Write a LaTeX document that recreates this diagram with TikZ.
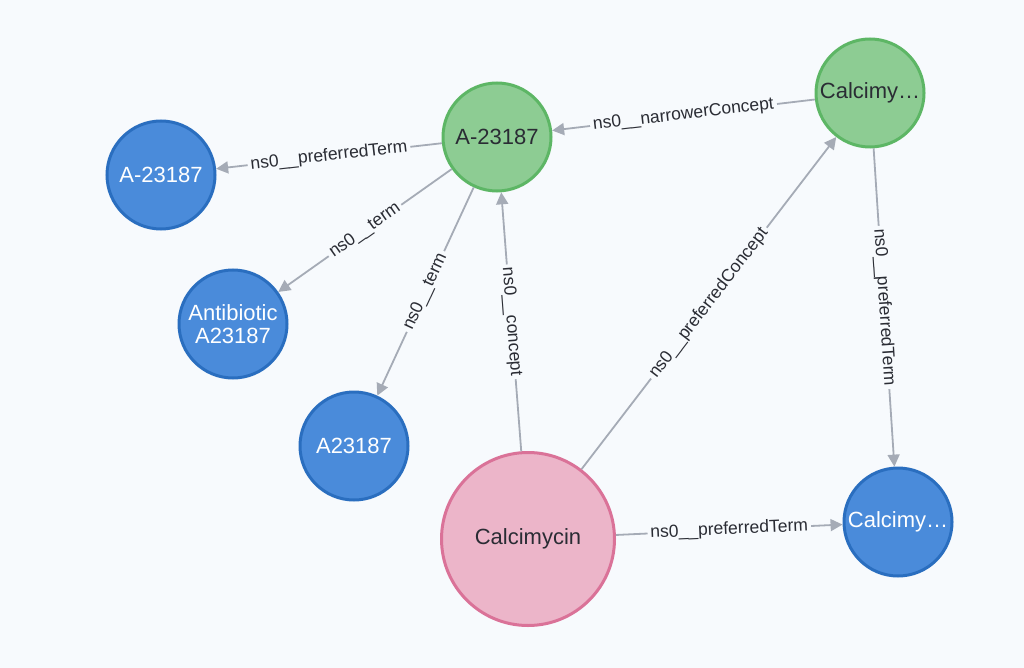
\documentclass[tikz,border=0pt]{standalone}
\usepackage{fontspec}
\setmainfont{Liberation Sans}
\usetikzlibrary{arrows.meta}

\definecolor{bg}{HTML}{F7FAFD}
\definecolor{bluefill}{HTML}{4A8BDA}
\definecolor{blueline}{HTML}{2A6EBF}
\definecolor{greenfill}{HTML}{8DCC93}
\definecolor{greenline}{HTML}{5DB665}
\definecolor{pinkfill}{HTML}{ECB5C9}
\definecolor{pinkline}{HTML}{DA7298}
\definecolor{edgecol}{HTML}{A5ABB6}
\definecolor{textdark}{HTML}{2A2C34}

\begin{document}
\begin{tikzpicture}[x=1pt,y=-1pt,
  term/.style={circle,draw=blueline,fill=bluefill,line width=3pt,minimum size=108pt,inner sep=0pt,text=white,font=\fontsize{22}{22.5}\selectfont,align=center},
  concept/.style={term,draw=greenline,fill=greenfill,text=textdark},
  drug/.style={term,draw=pinkline,fill=pinkfill,text=textdark,minimum size=173pt},
  rel/.style={draw=edgecol,line width=1.8pt,-{Triangle[length=12pt,width=12pt]}},
  lbl/.style={midway,sloped,fill=bg,inner sep=3pt,text=textdark,font=\fontsize{17.5}{19}\selectfont}]
\fill[bg] (0,0) rectangle (1024,668);
% nodes
\node[concept] (aconc) at (497,137) {A-23187};
\node[concept] (cconc) at (870,93) {Calcimy…};
\node[term] (aterm) at (161,175) {A-23187};
\node[term] (anti) at (233,324) {Antibiotic\\A23187};
\node[term] (aname) at (354,446) {A23187};
\node[drug] (calc) at (528,539) {Calcimycin};
\node[term] (cterm) at (898,522) {Calcimy…};
% relations
\draw[rel] (aconc) -- (aterm) node[lbl]{ns0\_\_preferredTerm};
\draw[rel] (aconc) -- (anti) node[lbl]{ns0\_\_term};
\draw[rel] (aconc) -- (aname) node[lbl]{ns0\_\_term};
\draw[rel] (calc) -- (aconc) node[lbl]{ns0\_\_concept};
\draw[rel] (cconc) -- (aconc) node[lbl]{ns0\_\_narrowerConcept};
\draw[rel] (calc) -- (cconc) node[lbl]{ns0\_\_preferredConcept};
\draw[rel] (cconc) -- (cterm) node[lbl]{ns0\_\_preferredTerm};
\draw[rel] (calc) -- (cterm) node[lbl]{ns0\_\_preferredTerm};
\end{tikzpicture}
\end{document}
